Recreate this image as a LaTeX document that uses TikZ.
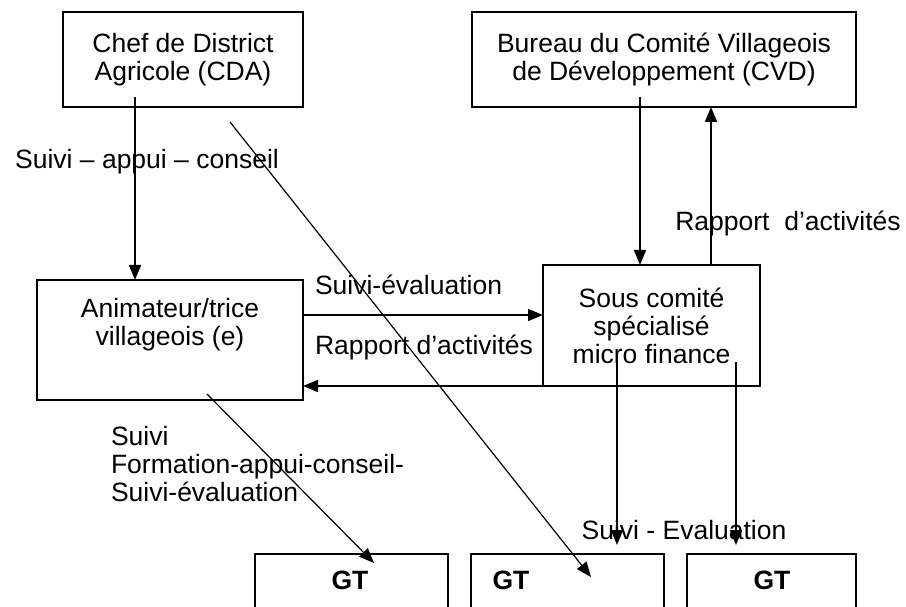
\documentclass[tikz,border=0pt]{standalone}
\usepackage{fontspec}
\setmainfont{Liberation Sans}
\usetikzlibrary{arrows.meta}

\begin{document}
\begin{tikzpicture}[x=1pt, y=-1pt,
  every node/.style = {font=\fontsize{26.5}{28}\selectfont, inner sep=0pt, outer sep=0pt},
  box/.style = {shape=rectangle, draw, line width=1.8pt, align=center},
  txt/.style = {align=center},
  gttxt/.style = {font=\fontsize{26.5}{28}\selectfont\bfseries},
  arr/.style = {line width=1.7pt, -{Triangle[length=15pt,width=12pt]}},
  thinarr/.style = {line width=1.2pt, -{Triangle[length=15pt,width=12pt]}}]
  \useasboundingbox (0,0) rectangle (906,607);
  \clip (0,0) rectangle (906,607);

  \node[box, minimum width=240pt, minimum height=95pt] (cda) at (183,59.5)
    {Chef de District\\Agricole (CDA)};
  \node[box, minimum width=384pt, minimum height=95pt] (cvd) at (664,59.5)
    {Bureau du Comité Villageois\\de Développement (CVD)};
  \node[box, minimum width=266pt, minimum height=120pt] (anim) at (170,340) {};
  \node[txt] (anim-t) at (170,325) {Animateur/trice\\villageois (e)};
  \node[box, minimum width=217pt, minimum height=121pt] (sc) at (651.5,325.5)
    {Sous comité\\spécialisé\\micro finance};

  \node[box, minimum width=193pt, minimum height=80pt, anchor=north west] (gt1) at (255,554) {};
  \node[box, minimum width=193pt, minimum height=80pt, anchor=north west] (gt2) at (471,554) {};
  \node[box, minimum width=169pt, minimum height=80pt, anchor=north west] (gt3) at (687,554) {};
  \node[gttxt] (gt1-t) at (350,580) {GT};
  \node[gttxt] (gt2-t) at (511,580) {GT};
  \node[gttxt] (gt3-t) at (772,580) {GT};

  \node[txt] (l-cda) at (147,162) {Suivi -- appui -- conseil};
  \node[txt] (l-up) at (788,223) {Rapport\ \ d’activités};
  \node[txt, anchor=west] (l-se) at (315,285) {Suivi-évaluation};
  \node[txt, anchor=west] (l-ra) at (315,347) {Rapport d’activités};
  \node[align=left, anchor=west] (l-anim) at (111,464)
    {Suivi\\Formation-appui-conseil-\\Suivi-évaluation};
  \node[txt] (l-sc) at (684,530) {Suivi - Evaluation};

  \draw[arr] ([xshift=-48pt,yshift=10pt]cda.south) -- ([xshift=-35pt]anim.north);
  \draw[thinarr] ([xshift=47pt,yshift=-15pt]cda.south) -- ([xshift=120pt,yshift=-23pt]gt2.north west);
  \draw[arr] ([xshift=-24pt,yshift=10pt]cvd.south) -- ([xshift=-11.5pt]sc.north);
  \draw[arr] ([xshift=59.5pt]sc.north) -- ([xshift=47pt]cvd.south);
  \draw[arr] ([yshift=25pt]anim.east) -- ([yshift=10.5pt]sc.west);
  \draw[arr] (sc.south west) -- (anim.east |- sc.south west);
  \draw[thinarr] ([xshift=37pt,yshift=6pt]anim.south) -- ([xshift=119pt,yshift=-9pt]gt1.north west);
  \draw[arr] ([xshift=-34.5pt,yshift=24pt]sc.south) -- ([xshift=49.5pt,yshift=9pt]gt2.north);
  \draw[arr] ([xshift=84.5pt,yshift=24pt]sc.south) -- ([xshift=-35.5pt,yshift=9pt]gt3.north);
\end{tikzpicture}
\end{document}
